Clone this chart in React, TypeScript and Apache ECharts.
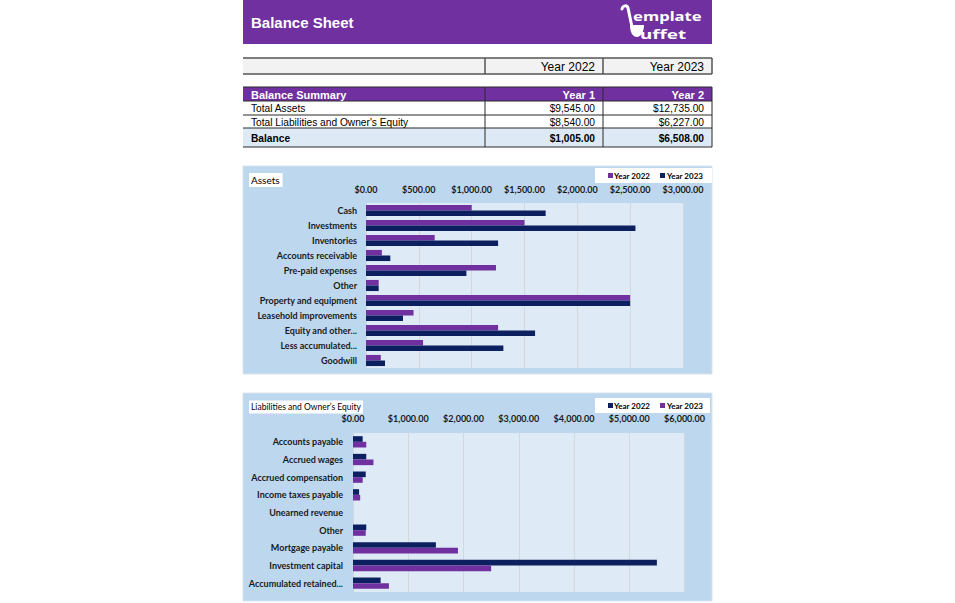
import React, { useEffect, useRef } from "react";
import * as echarts from "echarts";

const assetCategories = [
  "Cash",
  "Investments",
  "Inventories",
  "Accounts receivable",
  "Pre-paid expenses",
  "Other",
  "Property and equipment",
  "Leasehold improvements",
  "Equity and other...",
  "Less accumulated...",
  "Goodwill",
];
const assets2022 = [1000, 1500, 650, 150, 1230, 120, 2500, 450, 1250, 540, 140];
const assets2023 = [1700, 2550, 1250, 230, 950, 120, 2500, 350, 1600, 1300, 180];

const liabCategories = [
  "Accounts payable",
  "Accrued wages",
  "Accrued compensation",
  "Income taxes payable",
  "Unearned revenue",
  "Other",
  "Mortgage payable",
  "Investment capital",
  "Accumulated retained...",
];
const liab2022 = [175, 240, 230, 110, 0, 240, 1500, 5500, 500];
const liab2023 = [240, 370, 175, 130, 0, 230, 1900, 2500, 650];

const yearHeaders = ["Year 2022", "Year 2023"];
const summaryHeaders = ["Balance Summary", "Year 1", "Year 2"];
const summaryRows = [
  ["Total Assets", "$9,545.00", "$12,735.00"],
  ["Total Liabilities and Owner's Equity", "$8,540.00", "$6,227.00"],
];
const balanceRow = ["Balance", "$1,005.00", "$6,508.00"];

const PURPLE = "#7030A0";
const NAVY = "#0c1f5f";
const PANEL = "#bdd7ee";
const PLOT = "#deeaf6";
const TFONT = "'Liberation Sans', Arial, sans-serif";
const CFONT = "Lato, 'Noto Sans', sans-serif";
const LFONT = "'Noto Sans', sans-serif";

const money = (v: number) =>
  "$" + v.toLocaleString("en-US", { minimumFractionDigits: 2, maximumFractionDigits: 2 });

echarts.graphic.registerShape(
  "logoHandle",
  echarts.graphic.extendPath("M0,4 C1,0 5,0 6,3 L10,22", {})
);
echarts.graphic.registerShape(
  "logoBowl",
  echarts.graphic.extendPath("M8,20 L22,20 C22,28 18,32 15,32 C11,32 8,28 8,20 Z", {})
);

function hline(x1: number, x2: number, y: number, w = 1, c = "#333") {
  return { type: "line", shape: { x1, y1: y, x2, y2: y }, style: { stroke: c, lineWidth: w }, z: 5 };
}
function vline(x: number, y1: number, y2: number, w = 1, c = "#333") {
  return { type: "line", shape: { x1: x, y1, x2: x, y2 }, style: { stroke: c, lineWidth: w }, z: 5 };
}
function txt(x: number, y: number, text: string, opts: any = {}) {
  return {
    type: "text",
    x,
    y,
    z: 6,
    style: {
      text,
      fill: opts.fill || "#000",
      font: `${opts.bold ? "bold " : ""}${opts.size || 10}px ${opts.family || TFONT}`,
      align: opts.align || "left",
      verticalAlign: "middle",
    },
  };
}
function legendBox(x: number, y: number, w: number, h: number, c1: string, c2: string) {
  const cy = y + h / 2;
  return [
    { type: "rect", shape: { x, y, width: w, height: h }, style: { fill: "#fff" }, z: 20 },
    { type: "rect", shape: { x: x + 13, y: cy - 2.5, width: 5, height: 5 }, style: { fill: c1 }, z: 21 },
    { ...txt(x + 19, cy, yearHeaders[0], { bold: true, size: 8, family: CFONT }), z: 21 },
    { type: "rect", shape: { x: x + 65, y: cy - 2.5, width: 5, height: 5 }, style: { fill: c2 }, z: 21 },
    { ...txt(x + 72, cy, yearHeaders[1], { bold: true, size: 8, family: CFONT }), z: 21 },
  ];
}

export default function App() {
  const ref = useRef<HTMLDivElement>(null);
  useEffect(() => {
    if (!ref.current) return;
    const chart = echarts.init(ref.current, null, { renderer: "svg" });

    const L = 243, R = 712, C1 = 485, C2 = 603;
    const elements: any[] = [];
    // header
    elements.push({ type: "rect", shape: { x: L, y: 0, width: R - L, height: 44 }, style: { fill: PURPLE }, z: 1 });
    elements.push(txt(251, 22.5, "Balance Sheet", { bold: true, size: 15, fill: "#fff" }));
    elements.push({ type: "logoHandle", x: 622, y: 5, style: { stroke: "#fff", lineWidth: 3, fill: null, lineCap: "round" }, z: 6 });
    elements.push({ type: "logoBowl", x: 622, y: 5, style: { fill: "#fff" }, z: 6 });
    elements.push({ ...txt(0, 0, "emplate", { bold: true, size: 13, fill: "#fff", family: LFONT }), x: 633, y: 16, scaleX: 1.28 });
    elements.push({ ...txt(0, 0, "uffet", { bold: true, size: 13, fill: "#fff", family: LFONT }), x: 640, y: 34, scaleX: 1.45 });

    // year row
    elements.push({ type: "rect", shape: { x: L, y: 58, width: R - L, height: 16 }, style: { fill: "#f2f2f2" }, z: 1 });
    elements.push(hline(L, R, 58, 1.5, "#555"), hline(L, R, 74, 1.5, "#555"));
    elements.push(vline(C1, 58, 74, 1.5, "#555"), vline(C2, 58, 74, 1.5, "#555"), vline(R, 58, 74, 1.5, "#555"));
    elements.push(txt(595, 66.5, yearHeaders[0], { size: 12, align: "right" }));
    elements.push(txt(704, 66.5, yearHeaders[1], { size: 12, align: "right" }));

    // summary table
    elements.push({ type: "rect", shape: { x: L, y: 87, width: R - L, height: 14 }, style: { fill: PURPLE }, z: 1 });
    elements.push({ type: "rect", shape: { x: L, y: 128, width: R - L, height: 19 }, style: { fill: "#dde9f5" }, z: 1 });
    [87, 101, 115, 128, 147].forEach((y) => elements.push(hline(L, R, y, 1, "#2a2a2a")));
    [C1, C2, R].forEach((x) => elements.push(vline(x, 87, 147, 1, "#2a2a2a")));
    elements.push(txt(251, 94.5, summaryHeaders[0], { bold: true, size: 11, fill: "#fff" }));
    elements.push(txt(595, 94.5, summaryHeaders[1], { bold: true, size: 11, fill: "#fff", align: "right" }));
    elements.push(txt(704, 94.5, summaryHeaders[2], { bold: true, size: 11, fill: "#fff", align: "right" }));
    const rowY = [108.5, 122];
    summaryRows.forEach((r, i) => {
      elements.push(txt(251, rowY[i], r[0], { size: 10.2 }));
      elements.push(txt(595, rowY[i], r[1], { size: 10.2, align: "right" }));
      elements.push(txt(704, rowY[i], r[2], { size: 10.2, align: "right" }));
    });
    elements.push(txt(251, 138, balanceRow[0], { size: 10.2, bold: true }));
    elements.push(txt(595, 138, balanceRow[1], { size: 10.2, bold: true, align: "right" }));
    elements.push(txt(704, 138, balanceRow[2], { size: 10.2, bold: true, align: "right" }));

    // chart panels
    elements.push({ type: "rect", shape: { x: L, y: 166, width: R - L, height: 208 }, style: { fill: PANEL, stroke: "#d6e4f0", lineWidth: 1 }, z: -10 });
    elements.push({ type: "rect", shape: { x: L, y: 393, width: R - L, height: 208 }, style: { fill: PANEL, stroke: "#d6e4f0", lineWidth: 1 }, z: -10 });
    elements.push({
      type: "text", x: 249, y: 180, z: 20,
      style: { text: "Assets", font: `10px ${CFONT}`, fill: "#000", verticalAlign: "middle", backgroundColor: "#fff", padding: [2, 3, 2, 2] },
    });
    elements.push({
      type: "text", x: 249, y: 407, z: 20,
      style: { text: "Liabilities and Owner\u2019s Equity", font: `8.5px ${CFONT}`, fill: "#000", verticalAlign: "middle", backgroundColor: "#fff", padding: [2, 2, 2, 2] },
    });
    elements.push(...legendBox(595, 168, 117, 15, PURPLE, NAVY));
    elements.push(...legendBox(595, 398, 115, 15, NAVY, PURPLE));

    const axisLabel = (margin: number) => ({
      fontFamily: CFONT,
      fontWeight: "bold",
      fontSize: 9,
      color: "#1a1a1a",
      margin,
    });

    chart.setOption({
      animation: false,
      backgroundColor: "#fff",
      graphic: { elements },
      grid: [
        { left: 366, top: 203, width: 317, height: 165, show: true, backgroundColor: PLOT, borderWidth: 0 },
        { left: 353, top: 433, width: 331.5, height: 159, show: true, backgroundColor: PLOT, borderWidth: 0 },
      ],
      xAxis: [
        {
          gridIndex: 0, type: "value", position: "top", min: 0, max: 3000, interval: 500,
          axisLine: { show: false }, axisTick: { show: false },
          splitLine: { show: true, lineStyle: { color: "#d3d8dd", width: 1 } },
          axisLabel: { ...axisLabel(9), formatter: (v: number) => money(v) },
        },
        {
          gridIndex: 1, type: "value", position: "top", min: 0, max: 6000, interval: 1000,
          axisLine: { show: false }, axisTick: { show: false },
          splitLine: { show: true, lineStyle: { color: "#d3d8dd", width: 1 } },
          axisLabel: { ...axisLabel(10), formatter: (v: number) => money(v) },
        },
      ],
      yAxis: [
        {
          gridIndex: 0, type: "category", data: assetCategories, inverse: true,
          axisLine: { show: false }, axisTick: { show: false }, splitLine: { show: false },
          axisLabel: axisLabel(9),
        },
        {
          gridIndex: 1, type: "category", data: liabCategories, inverse: true,
          axisLine: { show: false }, axisTick: { show: false }, splitLine: { show: false },
          axisLabel: axisLabel(10),
        },
      ],
      series: [
        { name: "Year 2022", type: "bar", xAxisIndex: 0, yAxisIndex: 0, data: assets2022, itemStyle: { color: PURPLE }, barGap: "0%", barCategoryGap: "26%" },
        { name: "Year 2023", type: "bar", xAxisIndex: 0, yAxisIndex: 0, data: assets2023, itemStyle: { color: NAVY }, barGap: "0%", barCategoryGap: "26%" },
        { name: "Year 2022", type: "bar", xAxisIndex: 1, yAxisIndex: 1, data: liab2022, itemStyle: { color: NAVY }, barGap: "0%", barCategoryGap: "36%" },
        { name: "Year 2023", type: "bar", xAxisIndex: 1, yAxisIndex: 1, data: liab2023, itemStyle: { color: PURPLE }, barGap: "0%", barCategoryGap: "36%" },
      ],
    });
    return () => chart.dispose();
  }, []);
  return <div ref={ref} style={{ position: "absolute", left: 0, top: 0, width: 955, height: 603 }} />;
}
